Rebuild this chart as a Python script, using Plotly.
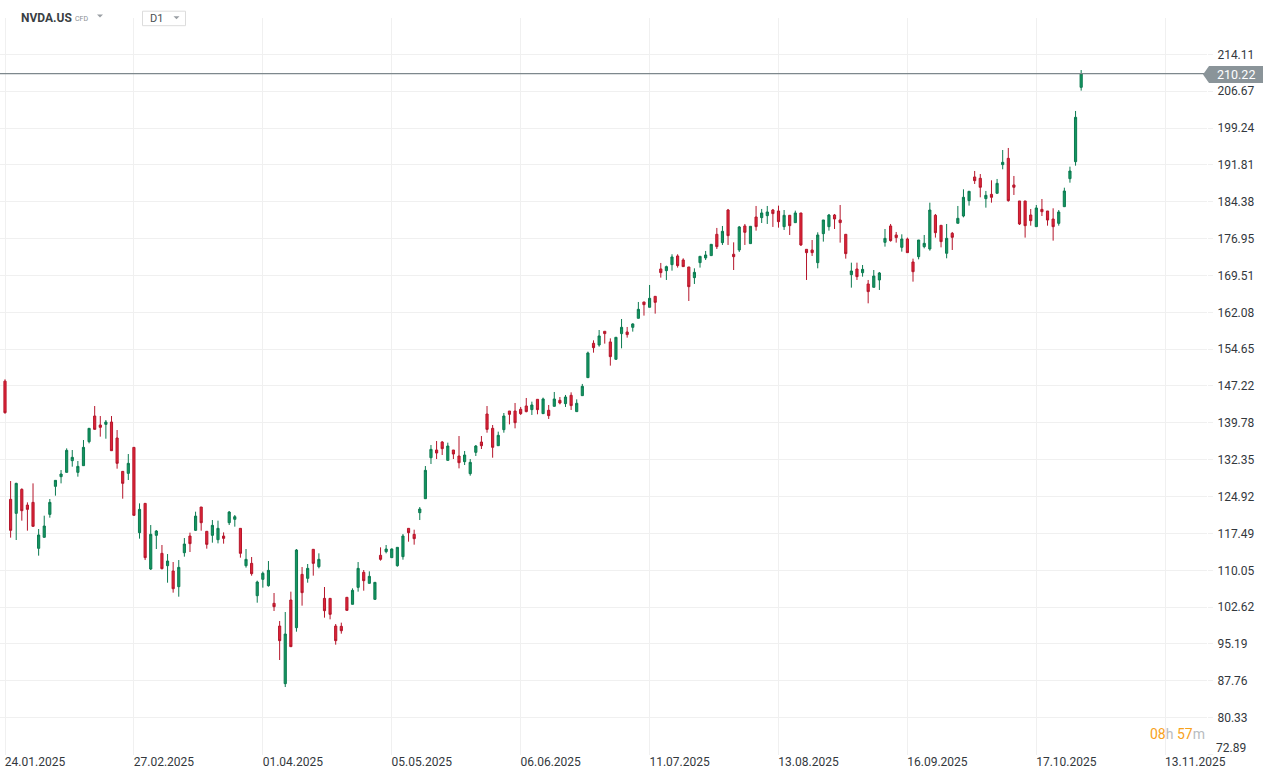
import plotly.graph_objects as go

# ---- data (daily candles, NVDA.US CFD) ----
opens = [148.2, 124.36, 121.53, 126.37, 123.2, 123.75, 114.48, 116.7, 121.33, 126.98,
         128.93, 129.8, 132.16, 129.8, 131.15, 135.99, 141.16, 139.35, 139.48, 139.95,
         136.73, 130.0, 129.6, 134.84, 117.64, 123.55, 110.31, 117.1, 113.47, 110.98,
         109.91, 106.75, 113.6, 116.96, 118.11, 122.81, 117.91, 117.1, 116.22, 116.96,
         119.65, 120.33, 118.51, 110.98, 111.45, 104.93, 108.23, 106.95, 103.39, 98.81,
         87.19, 104.06, 98.48, 109.23, 108.43, 114.28, 110.78, 104.39, 104.39, 98.81,
         98.75, 104.6, 103.19, 106.61, 109.64, 107.42, 104.19, 113.07, 113.81, 112.6,
         110.98, 112.8, 118.51, 117.3, 121.67, 124.49, 132.76, 134.31, 135.92, 132.22,
         134.31, 133.1, 131.96, 129.54, 133.84, 135.92, 141.57, 138.68, 135.18, 138.41,
         142.17, 142.17, 142.52, 143.19, 142.45, 144.53, 141.64, 142.32, 143.12, 144.33,
         143.66, 145.34, 142.05, 145.27, 148.9, 155.83, 155.49, 158.25, 156.1, 152.6,
         157.78, 158.11, 159.05, 160.87, 164.16, 163.09, 165.3, 170.82, 170.48, 171.69,
         173.44, 172.63, 171.22, 169.07, 172.09, 173.04, 173.51, 177.81, 176.13, 182.71,
         173.78, 174.65, 179.49, 175.93, 181.3, 181.17, 181.57, 182.71, 182.51, 179.35,
         181.64, 180.16, 182.11, 174.78, 174.65, 172.09, 177.94, 179.35, 181.7, 180.7,
         177.81, 169.67, 170.81, 170.07, 167.79, 167.12, 168.6, 176.19, 179.49, 177.67,
         175.18, 176.86, 172.23, 173.3, 175.32, 174.85, 181.64, 179.62, 173.98, 178.01,
         180.03, 181.5, 184.6, 189.37, 189.1, 185.0, 185.87, 186.08, 191.86, 193.13,
         187.76, 184.53, 184.53, 181.7, 179.35, 182.84, 182.51, 180.89, 180.02, 183.38,
         189.03, 192.46, 207.45]
highs = [148.56, 128.05, 127.7, 126.58, 123.75, 127.58, 118.37, 121.06, 124.43, 128.19,
         130.27, 134.64, 134.31, 132.09, 136.32, 138.68, 143.18, 141.16, 140.36, 141.16,
         138.34, 130.0, 133.5, 134.84, 123.55, 123.55, 119.18, 118.17, 115.15, 113.33,
         111.72, 112.12, 116.56, 117.64, 121.87, 122.81, 117.91, 120.19, 120.06, 117.7,
         122.0, 121.2, 118.51, 114.34, 112.73, 107.96, 109.78, 111.92, 105.47, 99.82,
         101.64, 105.74, 114.34, 110.71, 111.32, 114.28, 113.47, 106.68, 104.39, 99.22,
         99.49, 104.6, 106.41, 111.72, 110.11, 109.84, 107.62, 114.68, 115.15, 114.48,
         114.68, 117.37, 118.51, 118.24, 122.81, 131.08, 135.32, 136.12, 136.12, 135.79,
         134.31, 137.13, 134.11, 132.49, 135.32, 137.13, 143.18, 139.35, 138.01, 141.77,
         142.17, 143.79, 142.99, 144.8, 144.06, 144.53, 144.87, 143.39, 146.01, 145.0,
         145.41, 145.94, 144.53, 147.63, 154.15, 156.43, 158.51, 158.25, 156.83, 157.04,
         160.73, 159.12, 159.86, 164.16, 164.16, 167.59, 165.3, 172.03, 171.49, 173.78,
         173.78, 172.97, 171.22, 170.95, 173.37, 174.45, 175.79, 179.09, 179.49, 182.92,
         176.19, 179.49, 179.89, 179.42, 183.52, 182.92, 183.52, 182.92, 183.59, 182.71,
         181.64, 182.58, 182.11, 174.78, 176.66, 178.21, 180.7, 181.91, 181.91, 183.72,
         177.81, 172.09, 172.09, 171.62, 168.6, 170.61, 170.21, 178.88, 179.89, 178.28,
         177.81, 177.14, 172.9, 176.66, 177.67, 184.19, 181.91, 179.62, 179.89, 178.28,
         183.52, 186.88, 186.48, 190.58, 189.97, 186.55, 188.7, 188.97, 194.81, 195.22,
         189.57, 184.53, 184.53, 182.91, 183.72, 184.93, 182.51, 183.05, 182.71, 187.21,
         191.45, 202.68, 210.94]
lows = [141.63, 116.63, 116.16, 120.06, 118.04, 118.91, 113.0, 116.7, 120.66, 125.1,
        127.58, 129.8, 130.95, 128.93, 131.15, 135.65, 138.47, 137.0, 136.59, 134.17,
        130.54, 124.49, 128.26, 121.13, 116.43, 112.12, 110.11, 114.34, 110.24, 107.55,
        105.54, 104.73, 112.8, 113.74, 117.97, 118.04, 114.41, 115.62, 115.48, 115.42,
        119.18, 118.85, 112.6, 110.58, 108.96, 103.52, 106.55, 106.75, 101.84, 91.96,
        86.51, 94.65, 97.67, 102.92, 107.55, 108.97, 110.44, 100.5, 100.16, 95.05,
        97.27, 101.97, 103.19, 105.74, 105.94, 107.42, 104.19, 111.99, 113.47, 112.6,
        110.78, 112.19, 115.82, 115.22, 120.19, 124.49, 131.49, 132.49, 133.3, 132.22,
        132.49, 130.61, 131.28, 129.13, 133.1, 134.51, 137.8, 132.76, 135.18, 137.8,
        139.48, 138.68, 141.37, 141.91, 141.37, 141.51, 141.64, 140.57, 143.12, 143.52,
        142.99, 142.38, 142.05, 145.27, 148.9, 153.94, 155.15, 155.76, 151.32, 152.6,
        154.82, 156.97, 158.18, 160.87, 161.41, 163.09, 161.81, 169.07, 168.6, 170.48,
        171.09, 171.29, 164.36, 167.79, 171.09, 172.63, 173.51, 174.85, 175.66, 175.66,
        170.61, 174.25, 175.66, 175.93, 178.55, 180.09, 179.89, 179.29, 179.15, 178.68,
        177.67, 180.16, 175.45, 168.6, 173.44, 170.95, 176.33, 178.55, 178.88, 176.13,
        172.9, 167.05, 168.6, 169.27, 163.89, 167.12, 166.58, 175.32, 176.33, 176.13,
        174.31, 174.11, 168.26, 172.76, 174.98, 174.51, 177.14, 175.18, 172.97, 174.65,
        180.03, 181.23, 183.59, 187.96, 185.27, 183.18, 184.19, 186.08, 190.92, 184.39,
        185.74, 179.69, 177.14, 179.55, 179.35, 181.5, 179.55, 176.53, 179.55, 183.38,
        188.22, 191.65, 206.78]
closes = [141.84, 118.11, 127.58, 122.07, 122.34, 118.91, 117.17, 118.98, 123.75, 128.19,
          129.47, 134.24, 132.83, 131.01, 134.84, 138.68, 138.47, 138.88, 139.95, 134.17,
          131.62, 127.58, 131.62, 121.13, 122.34, 112.6, 117.3, 117.97, 110.38, 111.92,
          106.34, 110.64, 115.35, 115.42, 120.98, 119.65, 115.28, 119.11, 118.51, 116.49,
          121.8, 120.86, 113.47, 112.26, 109.37, 107.69, 109.44, 110.04, 102.71, 95.86,
          97.2, 94.65, 114.14, 105.54, 110.44, 111.45, 112.26, 101.91, 101.17, 95.86,
          97.87, 101.97, 106.01, 110.44, 107.96, 108.83, 107.62, 112.26, 114.34, 114.34,
          114.68, 116.97, 117.64, 116.43, 122.41, 130.21, 134.44, 133.7, 134.58, 135.11,
          133.5, 131.75, 133.3, 131.82, 135.11, 135.18, 138.47, 134.85, 137.27, 141.17,
          141.5, 139.82, 141.64, 142.05, 143.39, 142.45, 144.6, 141.24, 144.6, 143.79,
          145.0, 143.26, 143.73, 147.15, 153.88, 154.95, 157.31, 157.78, 153.14, 157.04,
          159.05, 157.58, 159.73, 162.68, 163.62, 164.9, 164.09, 170.08, 171.29, 173.24,
          171.49, 171.29, 167.25, 170.14, 173.37, 173.64, 175.79, 175.32, 178.41, 177.54,
          173.3, 179.29, 178.21, 179.42, 179.36, 182.11, 182.31, 181.98, 180.36, 181.64,
          179.55, 182.11, 175.66, 174.11, 174.11, 177.67, 180.7, 181.7, 180.9, 180.16,
          173.91, 170.41, 169.27, 170.74, 166.25, 169.4, 170.01, 176.99, 176.53, 177.14,
          176.86, 174.11, 170.27, 176.66, 175.99, 182.71, 178.14, 176.33, 177.0, 177.2,
          181.03, 185.27, 186.48, 188.63, 187.29, 185.67, 185.27, 188.09, 192.33, 184.6,
          187.29, 179.89, 179.55, 180.56, 183.12, 182.37, 180.69, 179.35, 182.31, 186.54,
          190.57, 201.4, 210.22]

x_tick_labels = ["24.01.2025", "27.02.2025", "01.04.2025", "05.05.2025", "06.06.2025",
                 "11.07.2025", "13.08.2025", "16.09.2025", "17.10.2025", "13.11.2025"]
bars_per_label = 23
y_tick_labels = ["72.89", "80.33", "87.76", "95.19", "102.62", "110.05", "117.49", "124.92",
                 "132.35", "139.78", "147.22", "154.65", "162.08", "169.51", "176.95",
                 "184.38", "191.81", "199.24", "206.67", "214.11"]
last_price = 210.22
symbol = "NVDA.US"
instrument_type = "CFD"
timeframe = "D1"
countdown_h, countdown_m = "08", "57"

# ---- layout geometry ----
W, H = 1275, 779
ML, MR, MT, MB = 0, 68, 18, 24
PW, PH = W - ML - MR, H - MT - MB
FONT = "Roboto, 'Open Sans', sans-serif"
AXIS_TEXT = "#33383d"

def px_x(p):
    return (p - ML) / PW

def px_y(p):
    return 1 - (p - MT) / PH

xs = list(range(len(opens)))
tickvals_x = [i * bars_per_label for i in range(len(x_tick_labels))]
tickvals_y = [float(v) for v in y_tick_labels]
# the lowest label sits slightly above its gridline (kept clear of the date row)
ticktext_y = [""] + y_tick_labels[1:]

fig = go.Figure()
fig.add_trace(go.Candlestick(
    x=xs, open=opens, high=highs, low=lows, close=closes,
    increasing=dict(line=dict(color="#0b7a50", width=1), fillcolor="#149660"),
    decreasing=dict(line=dict(color="#b5162b", width=1), fillcolor="#de2437"),
    whiskerwidth=0, hoverinfo="skip", showlegend=False,
))

shapes = []
annotations = []

annotations.append(dict(xref="paper", yref="paper", x=px_x(1214), y=px_y(747.5),
                        text=y_tick_labels[0], showarrow=False,
                        font=dict(family=FONT, size=12, color=AXIS_TEXT),
                        xanchor="left", yanchor="middle"))

# current price line
shapes.append(dict(type="line", xref="paper", yref="y", x0=0, x1=px_x(1204),
                   y0=last_price, y1=last_price, line=dict(color="#7e888d", width=1.3),
                   layer="above"))
# price tag box with arrow
shapes.append(dict(type="path", xref="paper", yref="paper",
                   path=("M {} {} L {} {} L {} {} L {} {} L {} {} Z".format(
                       px_x(1203), px_y(74.5), px_x(1209), px_y(66), px_x(1263), px_y(66),
                       px_x(1263), px_y(83), px_x(1209), px_y(83))),
                   fillcolor="#8a9499", line=dict(width=0), layer="above"))
annotations.append(dict(xref="paper", yref="paper", x=px_x(1236), y=px_y(74.5),
                        text=str(last_price), showarrow=False,
                        font=dict(family=FONT, size=12.5, color="white"),
                        xanchor="center", yanchor="middle"))

# header
annotations.append(dict(xref="paper", yref="paper", x=px_x(19), y=px_y(18),
                        text="<b>" + symbol + "</b>", showarrow=False,
                        font=dict(family=FONT, size=12, color="#3a3f44"),
                        xanchor="left", yanchor="middle"))
annotations.append(dict(xref="paper", yref="paper", x=px_x(73), y=px_y(19),
                        text=instrument_type, showarrow=False,
                        font=dict(family=FONT, size=7, color="#8a8f94"),
                        xanchor="left", yanchor="middle"))
shapes.append(dict(type="path", xref="paper", yref="paper",
                   path="M {} {} L {} {} L {} {} Z".format(px_x(97), px_y(14.5), px_x(103), px_y(14.5),
                                                          px_x(100), px_y(17.5)),
                   fillcolor="#9a9fa4", line=dict(width=0), layer="above"))
shapes.append(dict(type="rect", xref="paper", yref="paper",
                   x0=px_x(142.5), x1=px_x(185.5), y0=px_y(25.7), y1=px_y(11.2),
                   fillcolor="white", line=dict(color="#dcdcdc", width=1), layer="above"))
annotations.append(dict(xref="paper", yref="paper", x=px_x(148), y=px_y(18.6),
                        text=timeframe, showarrow=False,
                        font=dict(family=FONT, size=11, color="#4a4f54"),
                        xanchor="left", yanchor="middle"))
shapes.append(dict(type="path", xref="paper", yref="paper",
                   path="M {} {} L {} {} L {} {} Z".format(px_x(173.5), px_y(16.3), px_x(179.5), px_y(16.3),
                                                          px_x(176.5), px_y(19.3)),
                   fillcolor="#9a9fa4", line=dict(width=0), layer="above"))

# countdown
annotations.append(dict(xref="paper", yref="paper", x=px_x(1207), y=px_y(734),
                        text=("<span style='color:#f7a21b'>{}</span><span style='color:#b9bcbf'>h</span> "
                              "<span style='color:#f7a21b'>{}</span><span style='color:#b9bcbf'>m</span>"
                              ).format(countdown_h, countdown_m),
                        showarrow=False, font=dict(family=FONT, size=14),
                        xanchor="right", yanchor="middle"))

x0 = -5 / 5.605
fig.update_layout(
    width=W, height=H,
    margin=dict(l=ML, r=MR, t=MT, b=MB, pad=0),
    paper_bgcolor="white", plot_bgcolor="white",
    font=dict(family=FONT, size=12, color=AXIS_TEXT),
    showlegend=False,
    hovermode=False,
    boxgap=0.45,
    shapes=shapes, annotations=annotations,
    xaxis=dict(range=[x0, x0 + PW / 5.605], tickvals=tickvals_x, ticktext=x_tick_labels,
               showgrid=True, gridcolor="#f0f0f0", gridwidth=1, zeroline=False,
               showline=False, ticks="", ticklabelshift=30, ticklabelstandoff=-2,
               rangeslider=dict(visible=False), fixedrange=True,
               tickfont=dict(family=FONT, size=12, color=AXIS_TEXT)),
    yaxis=dict(range=[221.43, 221.43 - PH / 4.9587][::-1], side="right",
               tickvals=tickvals_y, ticktext=ticktext_y,
               showgrid=True, gridcolor="#f0f0f0", gridwidth=1, zeroline=False,
               showline=False, ticks="outside", ticklen=5, tickcolor="#f0f0f0",
               ticklabelstandoff=2, fixedrange=True,
               tickfont=dict(family=FONT, size=12, color=AXIS_TEXT)),
)

fig.write_html("out.html", config={"displayModeBar": False},
               post_script="document.body.style.margin='0';document.body.style.padding='0';")
